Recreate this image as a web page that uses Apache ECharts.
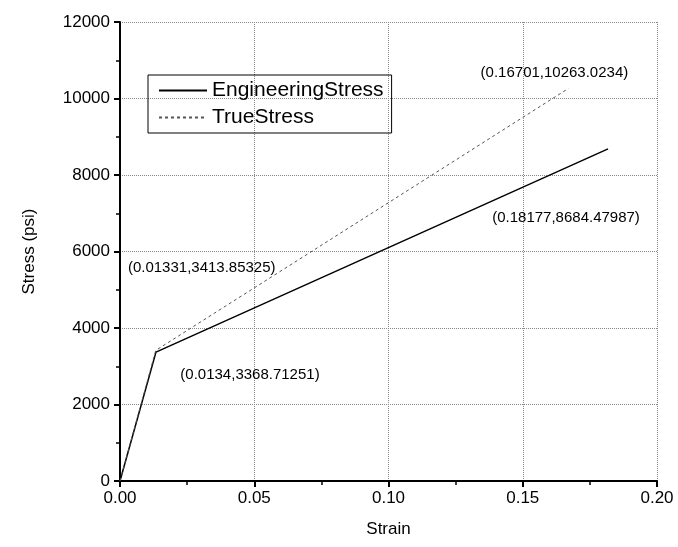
<!DOCTYPE html>
<html>
<head>
<meta charset="utf-8">
<script src="https://cdn.jsdelivr.net/npm/echarts@6/dist/echarts.min.js"></script>
<style>
  html, body { margin: 0; padding: 0; background: #fff; }
  #chart { width: 678px; height: 547px; }
</style>
</head>
<body>
<div id="chart"></div>
<script>
// data
const engStrain = [0, 0.0134, 0.18177];
const engStress = [0, 3368.71251, 8684.47987];
const trueStrain = [0, 0.01331, 0.16701];
const trueStress = [0, 3413.85325, 10263.0234];

// which points carry a text label, and where it sits relative to the point
const engLabels = [null, { text: "(0.0134,3368.71251)", offset: [94, 23] }, { text: "(0.18177,8684.47987)", offset: [-42, 69] }];
const trueLabels = [null, { text: "(0.01331,3413.85325)", offset: [46, -83] }, { text: "(0.16701,10263.0234)", offset: [-14, -16] }];

const font = "Liberation Sans, Arial, sans-serif";

function buildData(xs, ys, labels) {
  return xs.map((x, i) => {
    const item = { value: [x, ys[i]] };
    if (labels[i]) {
      item.label = {
        show: true,
        formatter: labels[i].text,
        position: "inside",
        offset: labels[i].offset,
        color: "#000",
        fontSize: 15,
        fontFamily: font
      };
    }
    return item;
  });
}

const chart = echarts.init(document.getElementById("chart"));

const option = {
  backgroundColor: "#fff",
  animation: false,
  grid: { left: 120, right: 21, top: 22, bottom: 66 },
  legend: {
    orient: "vertical",
    left: 148,
    top: 75,
    borderColor: "#000",
    borderWidth: 1,
    padding: [5, 8, 5, 10],
    itemWidth: 48,
    itemHeight: 10,
    itemGap: 6,
    itemStyle: { opacity: 0 },
    textStyle: { fontSize: 21, fontFamily: font, color: "#000" },
    data: ["EngineeringStress", "TrueStress"]
  },
  xAxis: {
    type: "value",
    min: 0,
    max: 0.2,
    interval: 0.05,
    name: "Strain",
    nameLocation: "middle",
    nameGap: 40,
    nameTextStyle: { fontSize: 17, fontFamily: font, color: "#000" },
    axisLine: { show: true, onZero: false, lineStyle: { color: "#000", width: 2 } },
    axisTick: { show: true, inside: false, length: 6, lineStyle: { color: "#000", width: 2 } },
    minorTick: { show: true, splitNumber: 2, length: 4, lineStyle: { color: "#000", width: 1.5 } },
    axisLabel: {
      fontSize: 17, fontFamily: font, color: "#000", margin: 9,
      formatter: v => v.toFixed(2)
    },
    splitLine: { show: true, lineStyle: { color: "#888", type: "dotted", width: 1 } }
  },
  yAxis: {
    type: "value",
    min: 0,
    max: 12000,
    interval: 2000,
    name: "Stress (psi)",
    nameLocation: "middle",
    nameGap: 82,
    nameTextStyle: { fontSize: 17, fontFamily: font, color: "#000" },
    axisLine: { show: true, onZero: false, lineStyle: { color: "#000", width: 2 } },
    axisTick: { show: true, inside: false, length: 6, lineStyle: { color: "#000", width: 2 } },
    minorTick: { show: true, splitNumber: 2, length: 4, lineStyle: { color: "#000", width: 1.5 } },
    axisLabel: {
      fontSize: 17, fontFamily: font, color: "#000", margin: 10,
      formatter: v => String(v)
    },
    splitLine: { show: true, lineStyle: { color: "#888", type: "dotted", width: 1 } }
  },
  series: [
    {
      name: "EngineeringStress",
      type: "line",
      symbol: "circle",
      symbolSize: 0.1,
      showSymbol: true,
      data: buildData(engStrain, engStress, engLabels),
      lineStyle: { color: "#000", width: 1.5, type: "solid" },
      itemStyle: { color: "#000" }
    },
    {
      name: "TrueStress",
      type: "line",
      symbol: "circle",
      symbolSize: 0.1,
      showSymbol: true,
      data: buildData(trueStrain, trueStress, trueLabels),
      lineStyle: { color: "#555", width: 1, type: [3, 3] },
      itemStyle: { color: "#555" }
    }
  ]
};

chart.setOption(option);
</script>
</body>
</html>
